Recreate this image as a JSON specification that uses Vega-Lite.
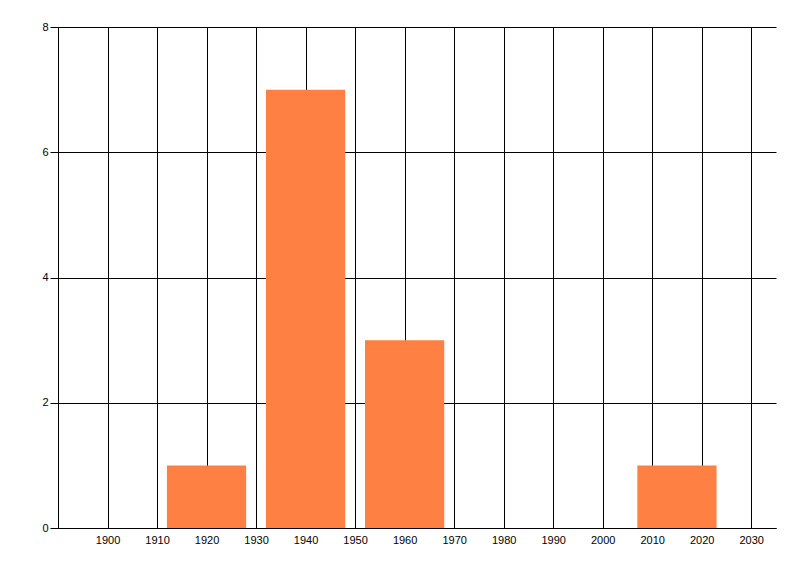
{
  "$schema": "https://vega.github.io/schema/vega-lite/v6.json",
  "autosize": "none",
  "width": 718,
  "height": 501,
  "padding": {"left": 58, "top": 27, "right": 24, "bottom": 48},
  "background": "white",
  "config": {"view": {"stroke": null}},
  "data": {"values": [
    {"start": 1912, "end": 1928, "count": 1},
    {"start": 1932, "end": 1948, "count": 7},
    {"start": 1952, "end": 1968, "count": 3},
    {"start": 2007, "end": 2023, "count": 1}
  ]},
  "mark": {"type": "rect", "color": "#FF8042"},
  "encoding": {
    "x": {
      "field": "start", "type": "quantitative",
      "scale": {"domain": [1890, 2035], "nice": false, "zero": false},
      "axis": {
        "title": null, "values": [1900,1910,1920,1930,1940,1950,1960,1970,1980,1990,2000,2010,2020,2030],
        "format": "d", "grid": true, "gridColor": "black", "gridOpacity": 1, "gridWidth": 1,
        "ticks": false, "domainColor": "black", "domainWidth": 1,
        "labelFont": "Liberation Sans", "labelFontSize": 11, "labelColor": "black", "labelPadding": 6
      }
    },
    "x2": {"field": "end"},
    "y": {
      "field": "count", "type": "quantitative",
      "scale": {"domain": [0, 8], "nice": false},
      "axis": {
        "title": null, "values": [0,2,4,6,8], "grid": true, "gridColor": "black", "gridOpacity": 1, "gridWidth": 1,
        "ticks": true, "tickSize": 8, "tickColor": "black", "domainColor": "black",
        "labelFont": "Liberation Sans", "labelFontSize": 11, "labelColor": "black", "labelPadding": 2
      }
    },
    "y2": {"datum": 0}
  }
}
